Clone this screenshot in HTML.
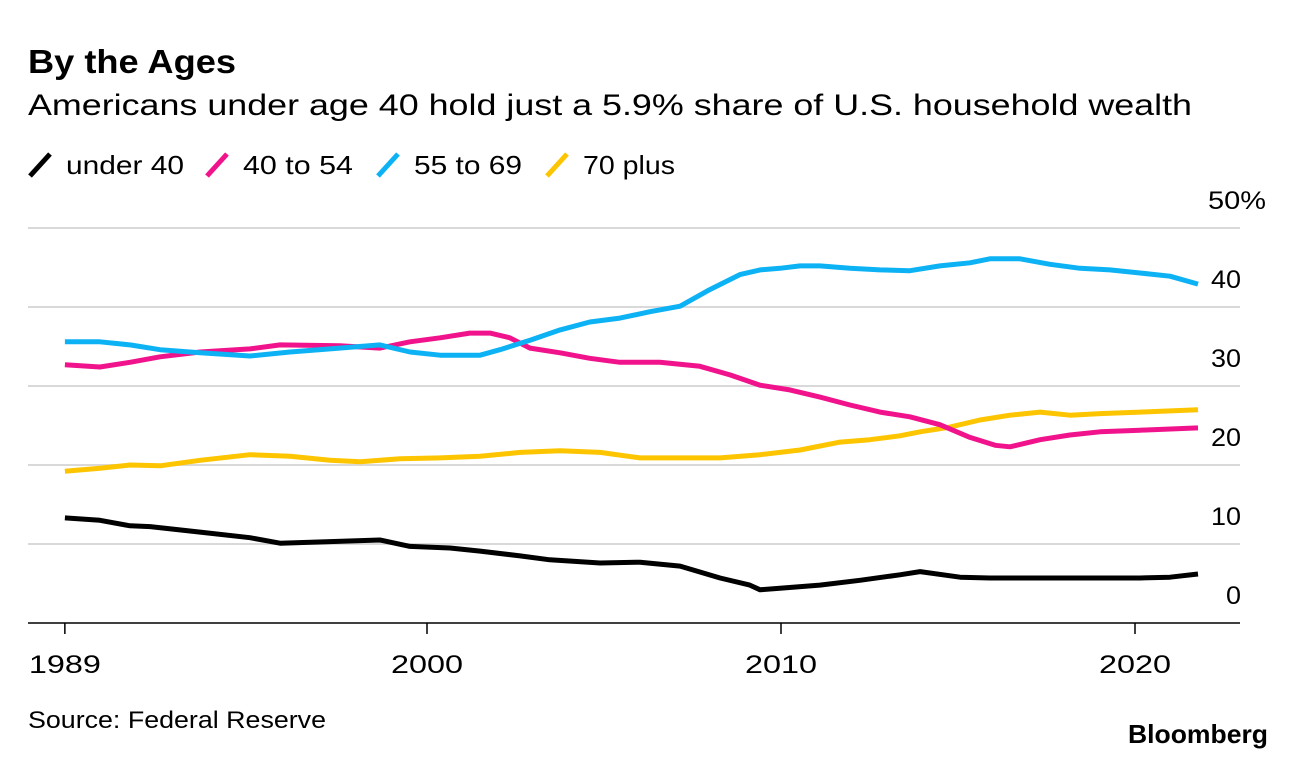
<!DOCTYPE html>
<html><head><meta charset="utf-8"><style>
body{margin:0;background:#fff;font-family:"Liberation Sans",sans-serif;}
svg text{font-family:"Liberation Sans",sans-serif;}
</style></head><body>
<svg width="1296" height="760">
<text x="28" y="73" font-size="33" font-weight="bold" fill="#000" textLength="208" lengthAdjust="spacingAndGlyphs">By the Ages</text>
<text x="28" y="115" font-size="30" fill="#000" textLength="1164" lengthAdjust="spacingAndGlyphs">Americans under age 40 hold just a 5.9% share of U.S. household wealth</text>
<g id="legend"></g>
<g id="grid"></g>
<g id="xaxis"></g>
<g id="series"></g>
<text x="28" y="728" font-size="24" fill="#000" textLength="298" lengthAdjust="spacingAndGlyphs">Source: Federal Reserve</text>
<text x="1268" y="743" font-size="26" font-weight="bold" text-anchor="end" fill="#000" textLength="140" lengthAdjust="spacingAndGlyphs">Bloomberg</text>
</svg>
<script>
const yTicks=[0,10,20,30,40,50];
const xTicks=[1989.77,2000,2010,2020];
const xTickLabels=["1989","2000","2010","2020"];
const seriesNames=["under 40","40 to 54","55 to 69","70 plus"];
const seriesColors=["#000000","#f0138c","#0db2f5","#fdc500"];
const yrsU40=[1989.77,1990.76,1991.61,1992.18,1993.59,1995.0,1995.85,1997.26,1998.67,1999.52,2000.65,2001.5,2002.63,2003.47,2004.89,2006.02,2007.15,2008.28,2009.12,2009.41,2009.97,2011.1,2012.23,2013.36,2013.93,2015.06,2015.9,2016.75,2019.01,2020.14,2020.99,2021.78];
const valsU40=[13.3,13.0,12.3,12.2,11.5,10.8,10.1,10.3,10.5,9.7,9.5,9.1,8.5,8.0,7.6,7.7,7.2,5.7,4.8,4.2,4.4,4.8,5.4,6.1,6.5,5.8,5.7,5.7,5.7,5.7,5.8,6.2];
const yrs4054=[1989.77,1990.76,1991.61,1992.46,1993.59,1995.0,1995.85,1997.54,1998.67,1999.52,2000.37,2001.21,2001.78,2002.34,2002.91,2003.76,2004.6,2005.45,2006.58,2007.71,2008.56,2009.41,2010.25,2011.1,2011.95,2012.8,2013.64,2014.49,2015.34,2016.05,2016.47,2017.32,2018.16,2019.01,2020.14,2021.78];
const vals4054=[32.7,32.4,33.0,33.7,34.3,34.7,35.2,35.1,34.8,35.6,36.1,36.7,36.7,36.1,34.8,34.2,33.5,33.0,33.0,32.5,31.4,30.1,29.5,28.6,27.6,26.7,26.1,25.1,23.5,22.5,22.3,23.2,23.8,24.2,24.4,24.7];
const yrs5569=[1989.77,1990.76,1991.61,1992.46,1993.59,1995.0,1996.13,1997.26,1998.67,1999.52,2000.37,2001.5,2002.06,2002.91,2003.76,2004.6,2005.45,2006.3,2007.15,2007.99,2008.84,2009.41,2009.97,2010.54,2011.1,2011.95,2012.8,2013.64,2014.49,2015.34,2015.9,2016.75,2017.6,2018.45,2019.29,2020.14,2020.99,2021.78];
const vals5569=[35.6,35.6,35.2,34.6,34.2,33.8,34.3,34.7,35.2,34.3,33.9,33.9,34.6,35.8,37.1,38.1,38.6,39.4,40.1,42.2,44.1,44.7,44.9,45.2,45.2,44.9,44.7,44.6,45.2,45.6,46.1,46.1,45.4,44.9,44.7,44.3,43.9,42.9];
const yrs70=[1989.77,1990.76,1991.61,1992.46,1993.59,1995.0,1996.13,1997.26,1998.11,1999.24,2000.37,2001.5,2002.63,2003.76,2004.89,2006.02,2007.15,2008.28,2009.41,2010.54,2011.67,2012.51,2013.36,2013.93,2014.77,2015.62,2016.47,2017.32,2018.16,2019.01,2020.14,2021.78];
const vals70=[19.2,19.6,20.0,19.9,20.6,21.3,21.1,20.6,20.4,20.8,20.9,21.1,21.6,21.8,21.6,20.9,20.9,20.9,21.3,21.9,22.9,23.2,23.7,24.2,24.8,25.7,26.3,26.7,26.3,26.5,26.7,27.0];
const allYrs=[yrsU40,yrs4054,yrs5569,yrs70];
const allVals=[valsU40,vals4054,vals5569,vals70];

const NS="http://www.w3.org/2000/svg";
const xS=y=>427+(y-2000)*35.4;
const yS=v=>623-v*7.9;
function mk(tag,attrs,parent){const e=document.createElementNS(NS,tag);for(const k in attrs)e.setAttribute(k,attrs[k]);parent.appendChild(e);return e;}
const grid=document.getElementById('grid');
yTicks.forEach((t,i)=>{
  if(t>0){const l=mk('line',{x1:28,x2:1240,y1:yS(t),y2:yS(t),stroke:'#d9d9d9','stroke-width':2},grid);
  
  }
  const lab=t+(i===5?'%':'');
  const tx=mk('text',{x:i===5?1208:1241,y:yS(t)-19,'font-size':25,'text-anchor':i===5?'start':'end',fill:'#000',textLength:i===5?58:lab.length*15,lengthAdjust:'spacingAndGlyphs'},grid);
  tx.textContent=lab;
  
  
});
const xa=document.getElementById('xaxis');
const al=mk('line',{x1:28,x2:1240,y1:623,y2:623,stroke:'#000','stroke-width':1.5},xa);


xTicks.forEach((t,i)=>{
  const tk=mk('line',{x1:xS(t),x2:xS(t),y1:623,y2:634,stroke:'#000','stroke-width':1.5},xa);
  
  
  const tx=mk('text',{x:xS(t),y:673,'font-size':25,'text-anchor':'middle',fill:'#000',textLength:72,lengthAdjust:'spacingAndGlyphs'},xa);
  tx.textContent=xTickLabels[i];
  
  
});
const sg=document.getElementById('series');
[3,1,2,0].forEach(s=>{
  const d=allYrs[s].map((y,i)=>(i?'L':'M')+xS(y).toFixed(1)+','+yS(allVals[s][i]).toFixed(1)).join(' ');
  const p=mk('path',{d:d,fill:'none',stroke:seriesColors[s],'stroke-width':5,'stroke-linejoin':'round','stroke-linecap':'butt'},sg);
  
  
});
const lg=document.getElementById('legend');
const lx=[30,207,378,547];
const lw=[118,110,108,92];
seriesNames.forEach((n,i)=>{
  const l=mk('line',{x1:lx[i],y1:176,x2:lx[i]+20,y2:154,stroke:seriesColors[i],'stroke-width':5},lg);
  
  
  const t=mk('text',{x:lx[i]+36,y:174,'font-size':26,fill:'#000',textLength:lw[i],lengthAdjust:'spacingAndGlyphs'},lg);
  t.textContent=n;
  
  
});
</script>
</body></html>
